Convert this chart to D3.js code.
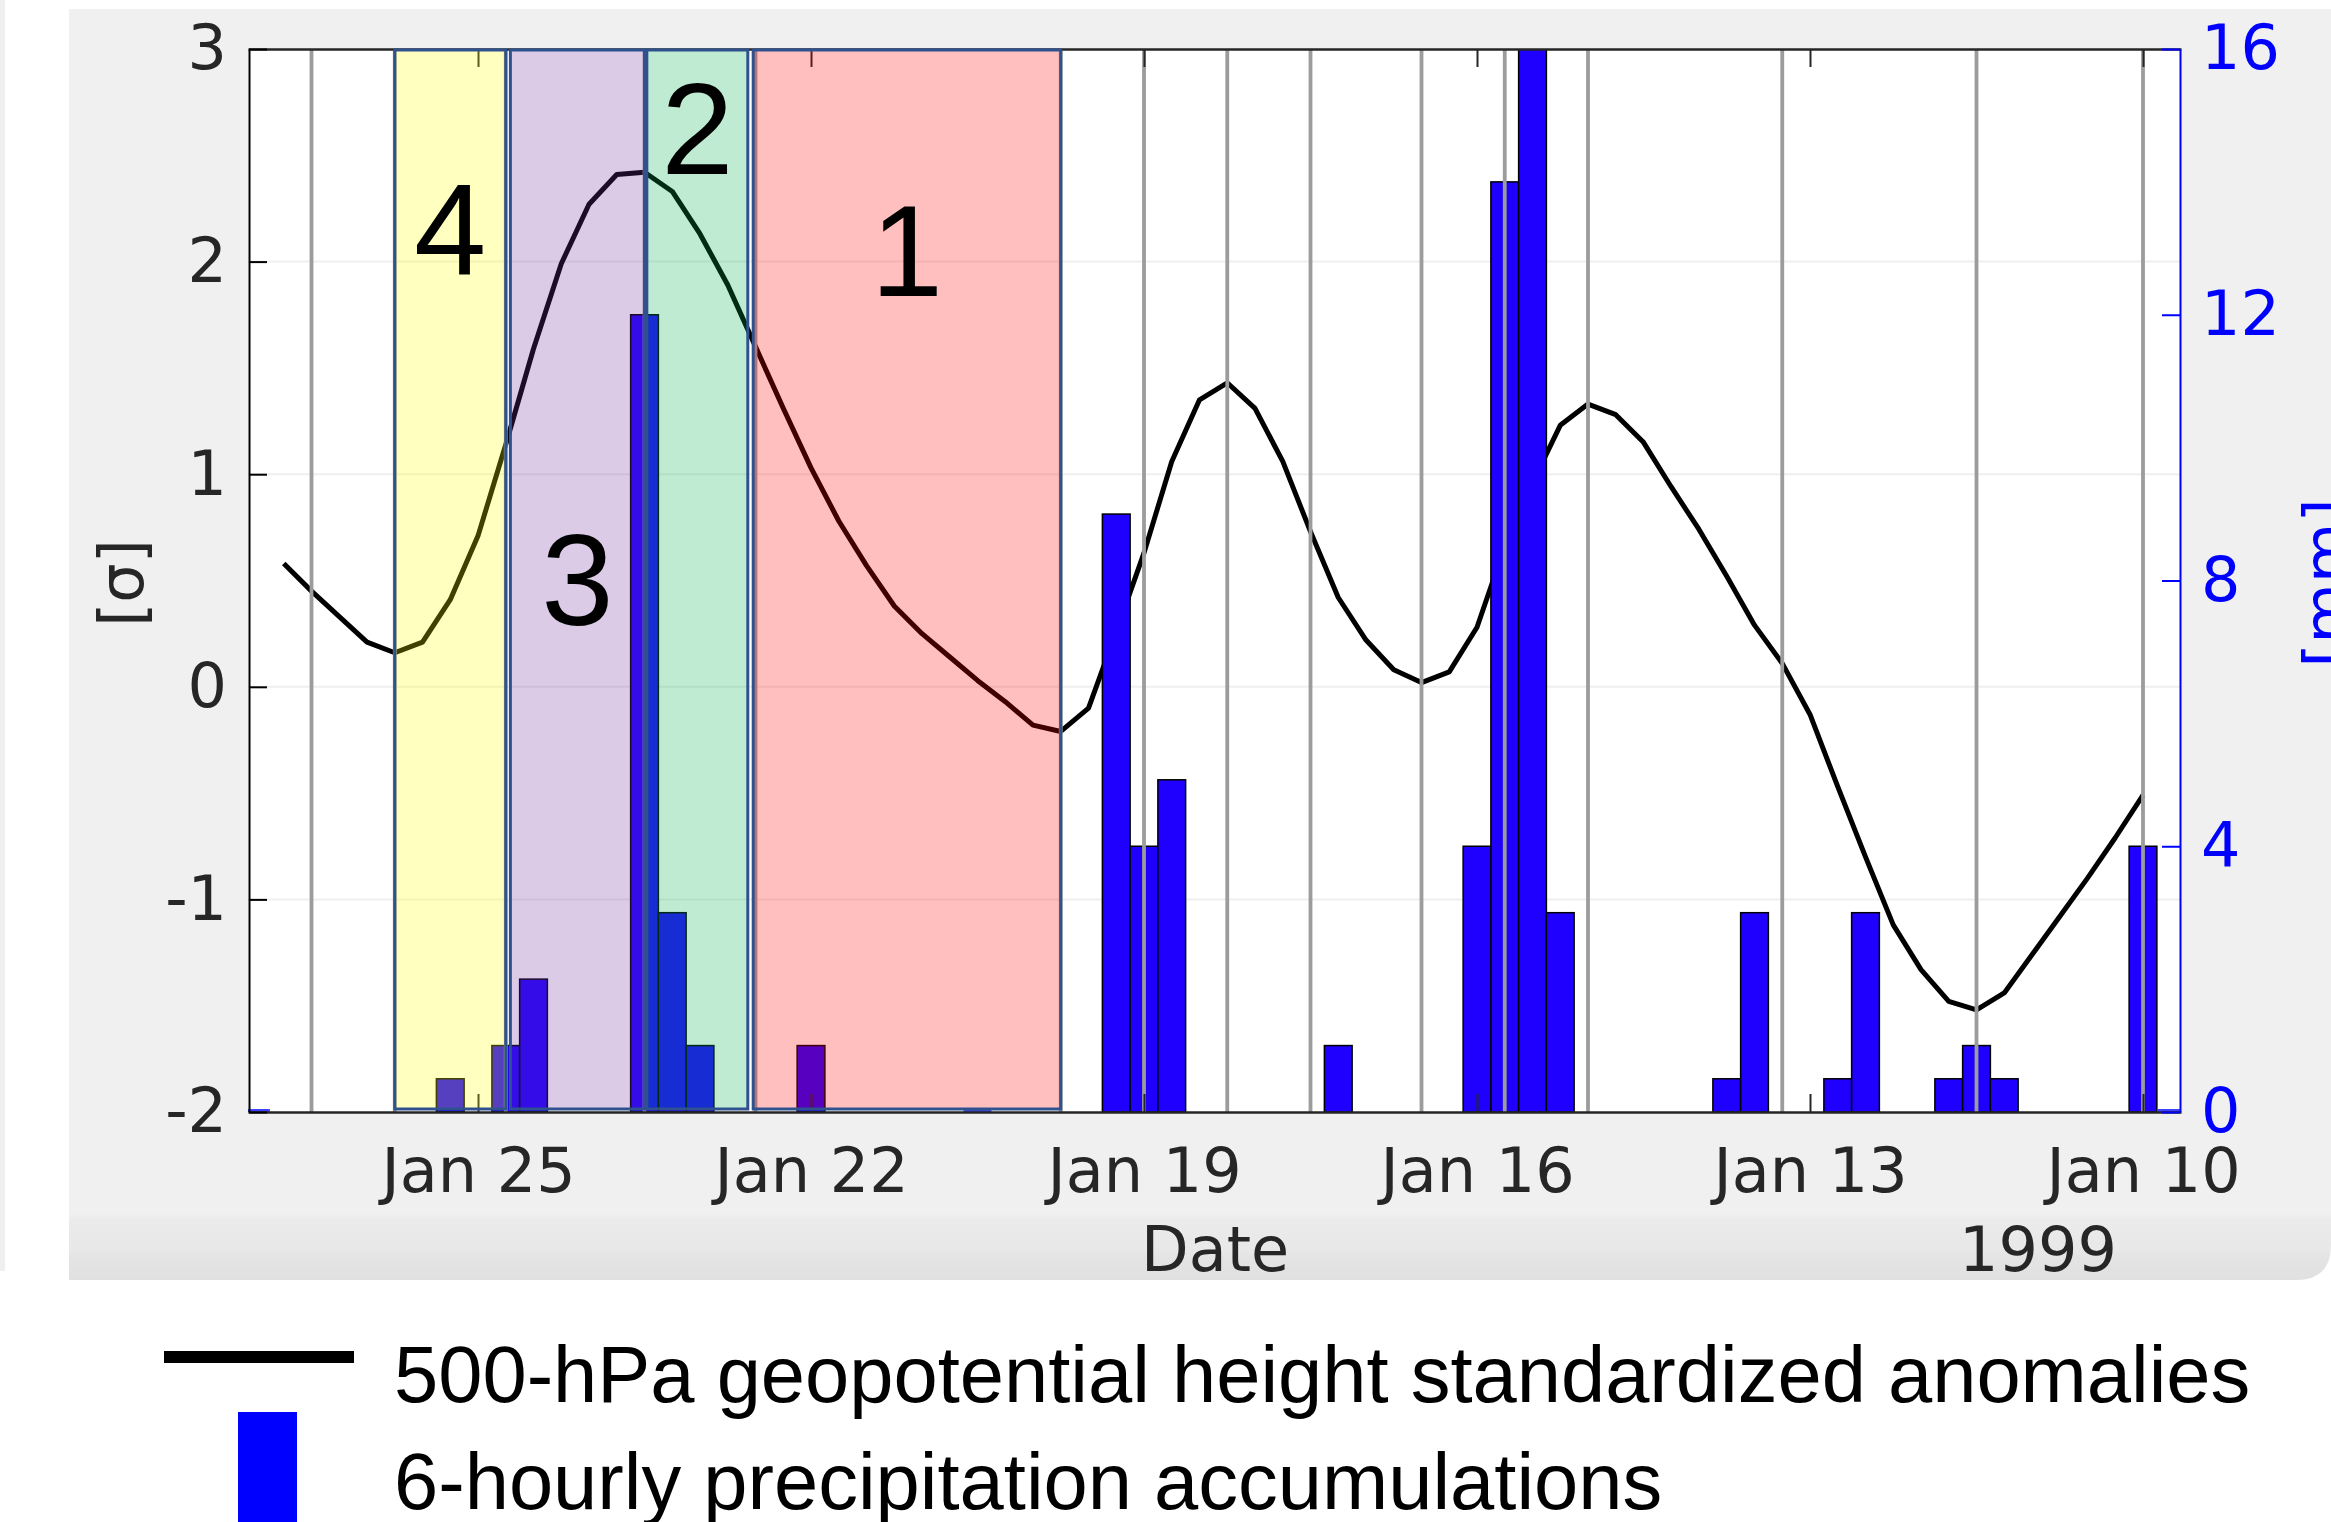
<!DOCTYPE html>
<html>
<head>
<meta charset="utf-8">
<script src="https://cdn.jsdelivr.net/npm/d3@7"></script>
<style>
  html, body { margin: 0; padding: 0; background: #fff; }
  svg { display: block; }
</style>
</head>
<body>
<div id="chart"></div>
<script>
// 500-hPa height standardized anomalies, every 6 h, from Jan 26 18:00 back to Jan 10 00:00
const hgtStart = "1999-01-26T18:00:00Z";
const hgtValues = [
  0.58, 0.45, 0.33, 0.21, 0.16, 0.21, 0.41, 0.71, 1.14, 1.59, 1.99, 2.27,
  2.41, 2.42, 2.33, 2.13, 1.89, 1.60, 1.31, 1.03, 0.78, 0.57, 0.38, 0.25,
  0.14, 0.03, -0.07, -0.18, -0.21, -0.10, 0.26, 0.63, 1.06, 1.35, 1.43, 1.31,
  1.06, 0.73, 0.42, 0.22, 0.08, 0.02, 0.07, 0.28, 0.66, 0.96, 1.23, 1.33,
  1.28, 1.15, 0.94, 0.74, 0.52, 0.29, 0.11, -0.13, -0.47, -0.80, -1.12, -1.33,
  -1.48, -1.52, -1.44, -1.26, -1.08, -0.90, -0.71, -0.51
];

// 6-hourly precipitation [mm]
const precipTimes = [
  "1999-01-27T00:00Z", "1999-01-25T06:00Z", "1999-01-24T18:00Z", "1999-01-24T12:00Z",
  "1999-01-23T12:00Z", "1999-01-23T06:00Z", "1999-01-23T00:00Z", "1999-01-22T00:00Z",
  "1999-01-20T12:00Z", "1999-01-19T06:00Z", "1999-01-19T00:00Z", "1999-01-18T18:00Z",
  "1999-01-17T06:00Z", "1999-01-16T00:00Z", "1999-01-15T18:00Z", "1999-01-15T12:00Z",
  "1999-01-15T06:00Z", "1999-01-13T18:00Z", "1999-01-13T12:00Z", "1999-01-12T18:00Z",
  "1999-01-12T12:00Z", "1999-01-11T18:00Z", "1999-01-11T12:00Z", "1999-01-11T06:00Z",
  "1999-01-10T00:00Z", "1999-01-09T18:00Z"
];
const precipValues = [
  0, 0.5, 1, 2,
  12, 3, 1, 1,
  0, 9, 4, 5,
  1, 4, 14, 16,
  3, 0.5, 3, 0.5,
  3, 0.5, 1, 0.5,
  4, 0
];

// grey vertical marker lines
const markerTimes = [
  "1999-01-26T12:00Z", "1999-01-25T18:00Z", "1999-01-24T18:00Z", "1999-01-23T12:00Z",
  "1999-01-22T12:00Z", "1999-01-19T18:00Z", "1999-01-19T00:00Z", "1999-01-18T06:00Z",
  "1999-01-17T12:00Z", "1999-01-16T12:00Z", "1999-01-15T18:00Z", "1999-01-15T00:00Z",
  "1999-01-13T06:00Z", "1999-01-11T12:00Z", "1999-01-10T00:00Z"
];

// shaded phases
const phaseNames = ["4", "3", "2", "1"];
const phaseFrom = ["1999-01-25T18:00Z", "1999-01-24T17:00Z", "1999-01-23T11:30Z", "1999-01-22T12:30Z"];
const phaseTo = ["1999-01-24T18:00Z", "1999-01-23T12:00Z", "1999-01-22T13:40Z", "1999-01-19T18:00Z"];
const phaseColors = ["#ffff00", "#7030a0", "#00b050", "#ff0000"];
const phaseLabelSigma = [1.94, 0.29, 2.41, 1.84];

const xTickDates = ["1999-01-25T00:00Z", "1999-01-22T00:00Z", "1999-01-19T00:00Z",
                    "1999-01-16T00:00Z", "1999-01-13T00:00Z", "1999-01-10T00:00Z"];
const yLeftTicks = [-2, -1, 0, 1, 2, 3];
const yRightTicks = [0, 4, 8, 12, 16];
const legendLabels = ["500-hPa geopotential height standardized anomalies",
                      "6-hourly precipitation accumulations"];

const W = 2331, H = 1522;
const plot = {left: 248, right: 2181, top: 49, bottom: 1112};
const axisFont = "'DejaVu Sans', sans-serif";
const labelFont = "'Liberation Sans', Arial, sans-serif";
const blue = "#0000ff";
const barBlue = "#1f00ff";

const svg = d3.select("#chart")
    .append("svg")
    .attr("width", W)
    .attr("height", H);

svg.append("rect").attr("width", W).attr("height", H).attr("fill", "#fff");

// figure background (matlab grey) with darker bottom band
let defs = svg.append("defs");
let grad = defs.append("linearGradient")
    .attr("id", "figGrad")
    .attr("gradientUnits", "userSpaceOnUse")
    .attr("x1", 0).attr("y1", 9).attr("x2", 0).attr("y2", 1280);
[[0, "#f0f0f0"], [0.948, "#f0f0f0"], [0.952, "#ebebeb"], [0.976, "#e8e8e8"],
 [0.982, "#e4e4e4"], [1, "#e0e0e0"]].forEach(s => {
    grad.append("stop").attr("offset", s[0]).attr("stop-color", s[1]);
});
svg.append("path")
    .attr("d", "M69,9 H2331 V1245 Q2331,1280 2296,1280 H69 Z")
    .attr("fill", "url(#figGrad)");
svg.append("rect").attr("x", 0).attr("y", 0).attr("width", 5).attr("height", 1271).attr("fill", "#efefef");

defs.append("clipPath").attr("id", "plotClip")
    .append("rect")
    .attr("x", plot.left).attr("y", plot.top)
    .attr("width", plot.right - plot.left).attr("height", plot.bottom - plot.top);

// scales
const x = d3.scaleUtc()
    .domain([d3.isoParse("1999-01-27T01:44:00Z"), d3.isoParse("1999-01-09T15:47:00Z")])
    .range([plot.left, plot.right]);
const yL = d3.scaleLinear().domain([-2, 3]).range([plot.bottom, plot.top]);
const yR = d3.scaleLinear().domain([0, 16]).range([plot.bottom, plot.top]);

svg.append("rect")
    .attr("x", plot.left).attr("y", plot.top)
    .attr("width", plot.right - plot.left).attr("height", plot.bottom - plot.top)
    .attr("fill", "#fff");

// horizontal grid
svg.append("g")
    .selectAll("line")
    .data(yLeftTicks.slice(1, -1))
    .enter()
    .append("line")
    .attr("x1", plot.left).attr("x2", plot.right)
    .attr("y1", d => yL(d)).attr("y2", d => yL(d))
    .attr("stroke", "#efefef")
    .attr("stroke-width", 2);

let inner = svg.append("g").attr("clip-path", "url(#plotClip)");

// height anomaly line
let hgtData = hgtValues.map((v, i) => ({t: d3.utcHour.offset(d3.isoParse(hgtStart), -6 * i), v: v}));
inner.append("path")
    .datum(hgtData)
    .attr("d", d3.line().x(d => x(d.t)).y(d => yL(d.v)))
    .attr("fill", "none")
    .attr("stroke", "#000")
    .attr("stroke-width", 5)
    .attr("stroke-linejoin", "round");

// precipitation bars (6 h wide, centred on time)
let precipData = precipTimes.map((t, i) => ({t: d3.isoParse(t), v: precipValues[i]}));
inner.append("g")
    .selectAll("rect")
    .data(precipData)
    .enter()
    .append("rect")
    .attr("x", d => x(d3.utcHour.offset(d.t, 3)))
    .attr("width", d => x(d3.utcHour.offset(d.t, -3)) - x(d3.utcHour.offset(d.t, 3)))
    .attr("y", d => d.v === 0 ? plot.bottom - 3 : yR(d.v))
    .attr("height", d => d.v === 0 ? 3 : plot.bottom - yR(d.v))
    .attr("fill", d => d.v === 0 ? "#4040ff" : barBlue)
    .attr("stroke", d => d.v === 0 ? "none" : "#000")
    .attr("stroke-width", 1.5);

// grey markers
inner.append("g")
    .selectAll("line")
    .data(markerTimes.map(d3.isoParse))
    .enter()
    .append("line")
    .attr("x1", d => x(d)).attr("x2", d => x(d))
    .attr("y1", plot.top).attr("y2", plot.bottom)
    .attr("stroke", "#9c9c9c")
    .attr("stroke-width", 3.8);

// axes
const xTicks = xTickDates.map(d3.isoParse);
let xBottom = svg.append("g")
    .attr("transform", `translate(0,${plot.bottom})`)
    .call(d3.axisBottom(x).tickValues(xTicks).tickFormat(d3.utcFormat("%b %-d"))
        .tickSize(-18).tickSizeOuter(0).tickPadding(36));
let xTop = svg.append("g")
    .attr("transform", `translate(0,${plot.top})`)
    .call(d3.axisTop(x).tickValues(xTicks).tickFormat("").tickSize(-18).tickSizeOuter(0));
let yLeft = svg.append("g")
    .attr("transform", `translate(${plot.left + 1},0)`)
    .call(d3.axisLeft(yL).tickValues(yLeftTicks).tickFormat(d => String(d))
        .tickSize(-18).tickSizeOuter(0).tickPadding(22));
let yRight = svg.append("g")
    .attr("transform", `translate(${plot.right - 1},0)`)
    .call(d3.axisRight(yR).tickValues(yRightTicks).tickFormat(d => String(d))
        .tickSize(-18).tickSizeOuter(0).tickPadding(21));

[xBottom, xTop].forEach(g => {
    g.select(".domain").attr("stroke", "#262626").attr("stroke-width", 2.5);
    g.selectAll(".tick line").attr("stroke", "#262626").attr("stroke-width", 2);
});
yLeft.select(".domain").attr("stroke", "#000").attr("stroke-width", 2);
yLeft.selectAll(".tick line").attr("stroke", "#000").attr("stroke-width", 2);
yRight.select(".domain").attr("stroke", blue).attr("stroke-width", 2);
yRight.selectAll(".tick line").attr("stroke", blue).attr("stroke-width", 2);
[xBottom, yLeft].forEach(g => {
    g.selectAll("text").attr("fill", "#262626").style("font-family", axisFont).style("font-size", "62px");
});
yRight.selectAll("text").attr("fill", blue).style("font-family", axisFont).style("font-size", "62px");

// phase boxes over everything in the plot
let phaseG = svg.append("g");
phaseNames.forEach((name, i) => {
    let x0 = x(d3.isoParse(phaseFrom[i]));
    let x1 = x(d3.isoParse(phaseTo[i]));
    phaseG.append("rect")
        .attr("x", x0).attr("y", plot.top + 1)
        .attr("width", x1 - x0).attr("height", plot.bottom - plot.top - 4)
        .attr("fill", phaseColors[i])
        .attr("fill-opacity", 0.25)
        .attr("stroke", "#2f528f")
        .attr("stroke-width", 3);
    phaseG.append("text")
        .attr("x", (x0 + x1) / 2)
        .attr("y", yL(phaseLabelSigma[i]))
        .attr("text-anchor", "middle")
        .style("font-family", labelFont)
        .style("font-size", "130px")
        .attr("fill", "#000")
        .text(name);
});

// axis labels
svg.append("text")
    .attr("transform", "translate(121,583) rotate(-90)")
    .attr("text-anchor", "middle")
    .attr("dominant-baseline", "central")
    .style("font-family", axisFont).style("font-size", "62px")
    .attr("fill", "#262626")
    .text("[σ]");
svg.append("text")
    .attr("transform", "translate(2326,583) rotate(-90)")
    .attr("text-anchor", "middle")
    .attr("dominant-baseline", "central")
    .style("font-family", axisFont).style("font-size", "62px")
    .attr("fill", blue)
    .text("[mm]");
svg.append("text")
    .attr("x", 1215).attr("y", 1271)
    .attr("text-anchor", "middle")
    .style("font-family", axisFont).style("font-size", "62px")
    .attr("fill", "#262626")
    .text("Date");
svg.append("text")
    .attr("x", 2038).attr("y", 1271)
    .attr("text-anchor", "middle")
    .style("font-family", axisFont).style("font-size", "62px")
    .attr("fill", "#262626")
    .text("1999");

// legend below the figure
svg.append("line")
    .attr("x1", 164).attr("x2", 354)
    .attr("y1", 1357).attr("y2", 1357)
    .attr("stroke", "#000").attr("stroke-width", 12);
svg.append("rect")
    .attr("x", 238).attr("y", 1412)
    .attr("width", 59).attr("height", 120)
    .attr("fill", blue);
svg.selectAll(".legendText")
    .data(legendLabels)
    .enter()
    .append("text")
    .attr("class", "legendText")
    .attr("x", 394)
    .attr("y", (d, i) => i === 0 ? 1402 : 1509)
    .style("font-family", labelFont)
    .style("font-size", "79.5px")
    .attr("fill", "#000")
    .text(d => d);
</script>
</body>
</html>
